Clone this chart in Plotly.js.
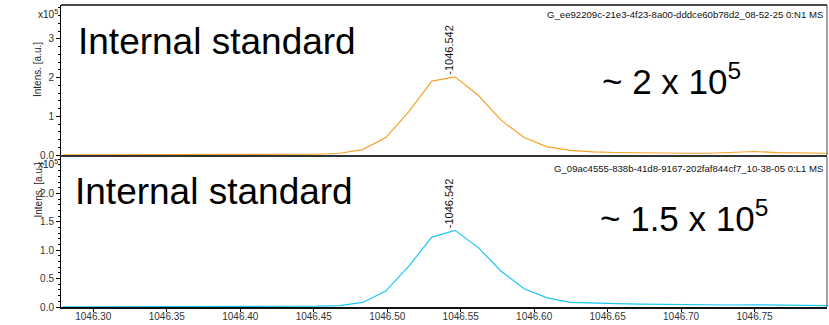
<!DOCTYPE html>
<html>
<head>
<meta charset="utf-8">
<script src="https://cdn.plot.ly/plotly-3.0.1.min.js"></script>
<style>html,body{margin:0;padding:0;background:#fff;}#chart{width:829px;height:325px;}</style>
</head>
<body>
<div id="chart"></div>
<script>
// m/z values (shared profile grid)
const mz = [1046.2792, 1046.2949, 1046.3106, 1046.3263, 1046.3420, 1046.3577, 1046.3734,
  1046.3891, 1046.4048, 1046.4205, 1046.4362, 1046.4519, 1046.4676, 1046.4833, 1046.4990,
  1046.5147, 1046.5304, 1046.5461, 1046.5618, 1046.5775, 1046.5932, 1046.6089, 1046.6246,
  1046.6403, 1046.6560, 1046.6717, 1046.6874, 1046.7031, 1046.7188, 1046.7345, 1046.7502,
  1046.7659, 1046.7816, 1046.7973, 1046.8130];
// intensities in units of 1e5 a.u.
const intensTop = [0.005, 0.005, 0.005, 0.005, 0.005, 0.006, 0.006, 0.007, 0.008, 0.009,
  0.012, 0.02, 0.045, 0.14, 0.45, 1.12, 1.91, 2.02, 1.55, 0.90, 0.45, 0.21, 0.12, 0.08,
  0.065, 0.055, 0.05, 0.045, 0.045, 0.06, 0.09, 0.06, 0.05, 0.04, 0.04];
const intensBottom = [0.004, 0.004, 0.004, 0.004, 0.004, 0.005, 0.005, 0.005, 0.006, 0.007,
  0.01, 0.015, 0.025, 0.08, 0.28, 0.72, 1.23, 1.35, 1.05, 0.63, 0.32, 0.16, 0.08, 0.065,
  0.06, 0.05, 0.045, 0.04, 0.035, 0.035, 0.04, 0.035, 0.025, 0.02, 0.02];
const peakLabel = "1046.542";
const peakMz = 1046.542;
const peakTop = 2.02, peakBottom = 1.35;
const specTop = "G_ee92209c-21e3-4f23-8a00-dddce60b78d2_08-52-25 0:N1 MS";
const specBottom = "G_09ac4555-838b-41d8-9167-202faf844cf7_10-38-05 0:L1 MS";
const xTicks = [1046.30, 1046.35, 1046.40, 1046.45, 1046.50, 1046.55, 1046.60, 1046.65, 1046.70, 1046.75];
const xTickText = ["1046.30","1046.35","1046.40","1046.45","1046.50","1046.55","1046.60","1046.65","1046.70","1046.75"];
const yTicksTop = [0, 1, 2, 3];
const yTickTextTop = ["0.0", "1", "2", "3"];
const yTicksBottom = [0, 0.5, 1.0, 1.5, 2.0];
const yTickTextBottom = ["0.0", "0.5", "1.0", "1.5", "2.0"];

const FONT = "Liberation Sans, Arial, sans-serif";
const W = 829, H = 325, ML = 61, MR = 2, MT = 5, MB = 18;
const PW = W - ML - MR, PH = H - MT - MB;
const px = x => (x - ML) / PW;          // pixel -> paper x
const py = y => (H - MB - y) / PH;      // pixel -> paper y

const traces = [
  {x: mz, y: intensTop, type: 'scatter', mode: 'lines', xaxis: 'x', yaxis: 'y',
   line: {color: '#F7A128', width: 1.2}, hoverinfo: 'none'},
  {x: mz, y: intensBottom, type: 'scatter', mode: 'lines', xaxis: 'x2', yaxis: 'y2',
   line: {color: '#1CC6F2', width: 1.2}, hoverinfo: 'none'}
];

const xr = [1046.278, 1046.7993];
const commonX = {range: xr, showgrid: false, zeroline: false, ticks: 'outside', ticklen: 3,
  tickcolor: '#000', tickvals: xTicks, ticktext: xTickText, ticklabelstandoff: -4,
  tickfont: {family: FONT, size: 10, color: '#333'}, showline: true, linecolor: '#111'};

const layout = {
  width: W, height: H, margin: {l: ML, r: MR, t: MT, b: MB},
  paper_bgcolor: '#fff', plot_bgcolor: '#fff', showlegend: false,
  xaxis: Object.assign({}, commonX, {domain: [0, 1], anchor: 'y', showticklabels: false,
    ticks: '', linewidth: 2, linecolor: '#333', mirror: false}),
  yaxis: {domain: [py(155), 1], range: [0, 3.876], showgrid: false, zeroline: false,
    ticks: 'outside', ticklen: 4, tickcolor: '#000', tickvals: yTicksTop, ticktext: yTickTextTop,
    tickfont: {family: FONT, size: 10, color: '#333'}, showline: true, linecolor: '#000', linewidth: 1,
    minor: {dtick: 0.2, ticklen: 2, tickcolor: '#000', ticks: 'outside'}},
  xaxis2: Object.assign({}, commonX, {domain: [0, 1], anchor: 'y2', linewidth: 2, linecolor: '#111'}),
  yaxis2: {domain: [0, py(157)], range: [0, 2.64], showgrid: false, zeroline: false,
    ticks: 'outside', ticklen: 4, tickcolor: '#000', tickvals: yTicksBottom, ticktext: yTickTextBottom,
    tickfont: {family: FONT, size: 10, color: '#333'}, showline: true, linecolor: '#000', linewidth: 1,
    minor: {dtick: 0.1, ticklen: 2, tickcolor: '#000', ticks: 'outside'}},
  shapes: [
    {type: 'line', xref: 'paper', yref: 'paper', x0: 0, x1: 1, y0: 1, y1: 1, line: {color: '#111', width: 1.5}},
    {type: 'line', xref: 'paper', yref: 'paper', x0: 1, x1: 1, y0: py(155), y1: 1, line: {color: '#444', width: 1}},
    {type: 'line', xref: 'paper', yref: 'paper', x0: 1, x1: 1, y0: 0, y1: py(157), line: {color: '#444', width: 1}}
  ],
  annotations: [
    {xref: 'paper', yref: 'paper', x: px(30), y: py(40), text: 'Intens. [a.u.]', textangle: -90,
     showarrow: false, font: {family: FONT, size: 10, color: '#222'}},
    {xref: 'paper', yref: 'paper', x: px(30), y: py(190), text: 'Intens. [a.u.]', textangle: -90,
     showarrow: false, font: {family: FONT, size: 10, color: '#222'}},
    {xref: 'paper', yref: 'paper', x: px(60), y: py(14), xanchor: 'right', yanchor: 'middle',
     text: 'x10<sup>5</sup>', showarrow: false, font: {family: FONT, size: 10, color: '#222'}},
    {xref: 'paper', yref: 'paper', x: px(60), y: py(164), xanchor: 'right', yanchor: 'middle',
     text: 'x10<sup>5</sup>', showarrow: false, font: {family: FONT, size: 10, color: '#222'}},
    {xref: 'paper', yref: 'paper', x: px(825), y: py(15), xanchor: 'right', yanchor: 'middle',
     text: specTop, showarrow: false, font: {family: FONT, size: 9.6, color: '#111'}},
    {xref: 'paper', yref: 'paper', x: px(825), y: py(168), xanchor: 'right', yanchor: 'middle',
     text: specBottom, showarrow: false, font: {family: FONT, size: 9.6, color: '#111'}},
    {xref: 'x', yref: 'y', x: peakMz, y: peakTop, text: '-' + peakLabel, textangle: -90,
     xanchor: 'center', yanchor: 'bottom', yshift: 0, showarrow: false,
     font: {family: FONT, size: 11, color: '#111'}},
    {xref: 'x2', yref: 'y2', x: peakMz, y: peakBottom, text: '-' + peakLabel, textangle: -90,
     xanchor: 'center', yanchor: 'bottom', yshift: 0, showarrow: false,
     font: {family: FONT, size: 11, color: '#111'}},
    {xref: 'paper', yref: 'paper', x: px(76), y: py(41), xanchor: 'left', yanchor: 'middle',
     text: 'Internal standard', showarrow: false, font: {family: FONT, size: 37, color: '#000'}},
    {xref: 'paper', yref: 'paper', x: px(73), y: py(191), xanchor: 'left', yanchor: 'middle',
     text: 'Internal standard', showarrow: false, font: {family: FONT, size: 37, color: '#000'}},
    {xref: 'paper', yref: 'paper', x: px(600), y: py(79), xanchor: 'left', yanchor: 'middle',
     text: '~ 2 x 10<sup>5</sup>', showarrow: false, font: {family: FONT, size: 35, color: '#000'}},
    {xref: 'paper', yref: 'paper', x: px(598), y: py(216), xanchor: 'left', yanchor: 'middle',
     text: '~ 1.5 x 10<sup>5</sup>', showarrow: false, font: {family: FONT, size: 35, color: '#000'}}
  ]
};

Plotly.newPlot('chart', traces, layout, {staticPlot: true, displayModeBar: false});
</script>
</body>
</html>
